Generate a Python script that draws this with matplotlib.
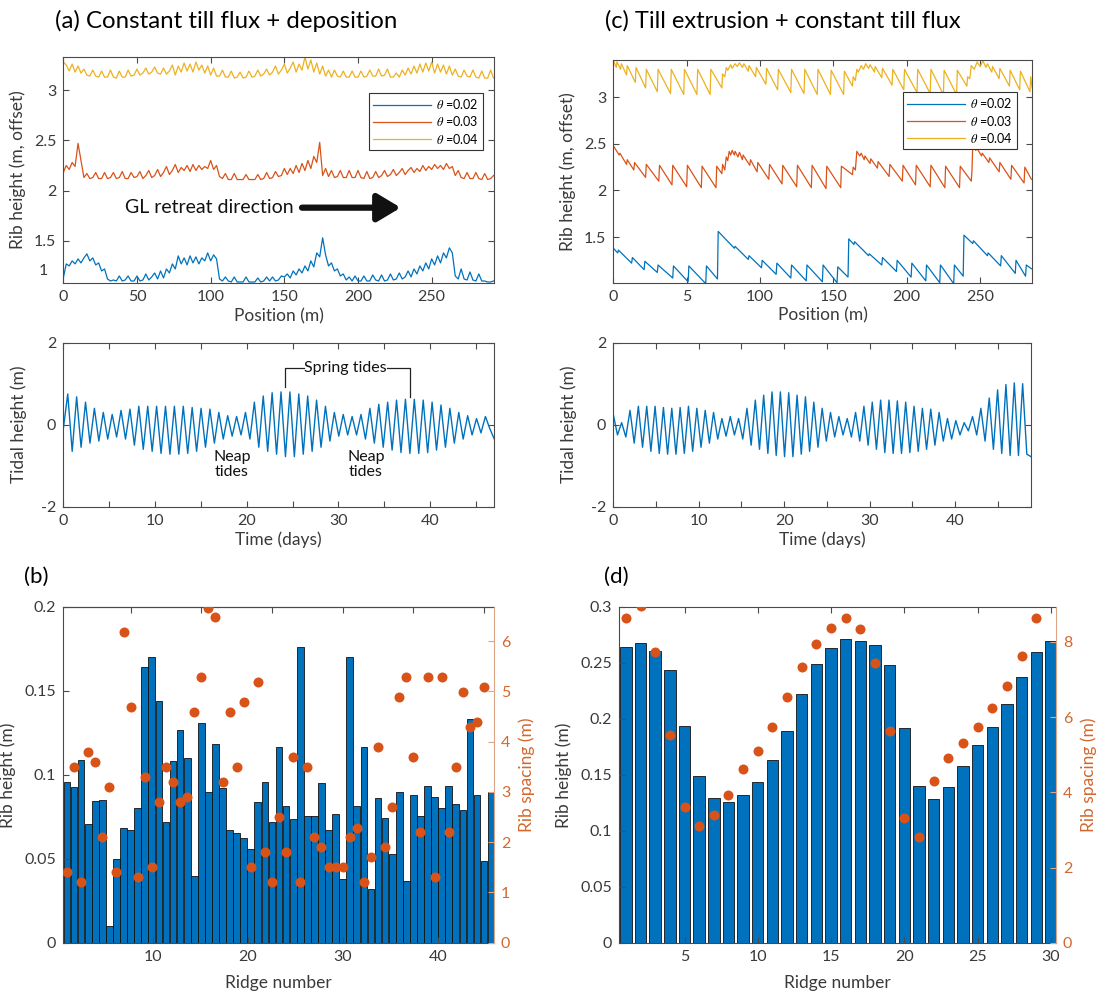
import numpy as np
import matplotlib
matplotlib.use("Agg")
import matplotlib.pyplot as plt
from matplotlib.ticker import FuncFormatter, FixedLocator, NullFormatter

plt.rcParams['font.family'] = ['Lato', 'DejaVu Sans']
plt.rcParams['mathtext.fontset'] = 'stix'
plt.rcParams['axes.unicode_minus'] = False

# ---------------- data ----------------
thetas = ["0.02", "0.03", "0.04"]

# (a) rib height profiles, sampled every 2 m (0..292 m)
pos_a = np.arange(0, 293, 2)
a_blue = [1.13, 1.27, 1.25, 1.30, 1.27, 1.32, 1.28, 1.33, 1.37, 1.30, 1.33, 1.26, 1.28, 1.20, 1.22, 1.12,
          1.10, 1.11, 1.10, 1.15, 1.10, 1.11, 1.15, 1.10, 1.10, 1.15, 1.10, 1.11, 1.17, 1.11, 1.14, 1.18,
          1.12, 1.20, 1.13, 1.22, 1.18, 1.27, 1.22, 1.35, 1.27, 1.33, 1.26, 1.35, 1.28, 1.34, 1.27, 1.33,
          1.30, 1.38, 1.30, 1.36, 1.32, 1.12, 1.10, 1.14, 1.10, 1.09, 1.14, 1.09, 1.09, 1.09, 1.14, 1.09,
          1.09, 1.09, 1.13, 1.09, 1.10, 1.14, 1.10, 1.14, 1.10, 1.11, 1.15, 1.14, 1.17, 1.13, 1.20, 1.16,
          1.22, 1.18, 1.25, 1.20, 1.30, 1.24, 1.38, 1.34, 1.53, 1.36, 1.25, 1.28, 1.20, 1.22, 1.15, 1.17,
          1.11, 1.14, 1.10, 1.15, 1.10, 1.10, 1.15, 1.10, 1.10, 1.16, 1.11, 1.10, 1.16, 1.10, 1.11, 1.17,
          1.11, 1.12, 1.18, 1.12, 1.14, 1.20, 1.14, 1.22, 1.17, 1.25, 1.20, 1.28, 1.22, 1.32, 1.26, 1.35,
          1.28, 1.38, 1.33, 1.43, 1.38, 1.15, 1.12, 1.22, 1.12, 1.11, 1.19, 1.11, 1.10, 1.17, 1.10, 1.10,
          1.09, 1.09, 1.10]
a_orange = [2.18, 2.25, 2.21, 2.28, 2.24, 2.47, 2.30, 2.13, 2.17, 2.12, 2.13, 2.18, 2.12, 2.12, 2.18, 2.12,
            2.13, 2.18, 2.12, 2.13, 2.19, 2.12, 2.12, 2.18, 2.13, 2.14, 2.19, 2.12, 2.15, 2.20, 2.13, 2.15,
            2.21, 2.14, 2.18, 2.24, 2.16, 2.20, 2.26, 2.18, 2.23, 2.20, 2.25, 2.19, 2.26, 2.20, 2.25, 2.21,
            2.24, 2.22, 2.30, 2.21, 2.25, 2.14, 2.12, 2.17, 2.11, 2.11, 2.17, 2.11, 2.11, 2.11, 2.16, 2.11,
            2.11, 2.11, 2.16, 2.11, 2.12, 2.18, 2.12, 2.13, 2.19, 2.14, 2.15, 2.22, 2.16, 2.22, 2.17, 2.25,
            2.18, 2.27, 2.20, 2.30, 2.22, 2.34, 2.28, 2.48, 2.15, 2.22, 2.14, 2.20, 2.13, 2.14, 2.20, 2.13,
            2.13, 2.20, 2.13, 2.13, 2.20, 2.13, 2.12, 2.19, 2.12, 2.13, 2.19, 2.13, 2.15, 2.20, 2.14, 2.16,
            2.21, 2.15, 2.18, 2.22, 2.16, 2.20, 2.23, 2.18, 2.22, 2.19, 2.25, 2.20, 2.24, 2.21, 2.26, 2.22,
            2.25, 2.21, 2.27, 2.22, 2.24, 2.15, 2.20, 2.13, 2.12, 2.18, 2.12, 2.12, 2.18, 2.12, 2.11, 2.17,
            2.11, 2.12, 2.15]
a_yellow = [3.28, 3.25, 3.19, 3.26, 3.18, 3.24, 3.17, 3.21, 3.15, 3.14, 3.20, 3.14, 3.13, 3.19, 3.13, 3.13,
            3.20, 3.13, 3.12, 3.19, 3.13, 3.13, 3.20, 3.14, 3.15, 3.21, 3.15, 3.17, 3.22, 3.16, 3.18, 3.23,
            3.17, 3.16, 3.22, 3.16, 3.19, 3.25, 3.15, 3.24, 3.18, 3.27, 3.19, 3.26, 3.18, 3.28, 3.20, 3.25,
            3.17, 3.24, 3.15, 3.22, 3.14, 3.14, 3.20, 3.13, 3.13, 3.19, 3.12, 3.13, 3.18, 3.12, 3.13, 3.19,
            3.13, 3.14, 3.20, 3.14, 3.16, 3.21, 3.15, 3.18, 3.24, 3.16, 3.20, 3.26, 3.17, 3.22, 3.28, 3.18,
            3.26, 3.20, 3.33, 3.21, 3.30, 3.18, 3.27, 3.16, 3.24, 3.14, 3.20, 3.13, 3.20, 3.14, 3.13, 3.19,
            3.13, 3.13, 3.19, 3.13, 3.13, 3.19, 3.13, 3.14, 3.20, 3.14, 3.14, 3.21, 3.14, 3.15, 3.21, 3.13,
            3.13, 3.17, 3.13, 3.20, 3.15, 3.22, 3.16, 3.24, 3.17, 3.26, 3.18, 3.27, 3.19, 3.28, 3.17, 3.26,
            3.18, 3.25, 3.16, 3.24, 3.15, 3.21, 3.14, 3.13, 3.20, 3.14, 3.13, 3.20, 3.13, 3.12, 3.19, 3.12,
            3.12, 3.20, 3.12]

# (c) rib height profiles (sawtooth vertices)
c_blue_pos = [0, 3, 3.5, 12.5, 13, 21, 21.5, 30, 30.5, 40.5, 41, 51, 51.5, 63, 63.5, 71, 71.5,
              82.5, 83, 92, 92.5, 101, 101.5, 111, 111.5, 121, 121.5, 131.5, 132, 142.5, 143, 152.5, 153,
              160, 160.5, 164, 164.5, 174, 174.5, 183, 183.5, 193, 193.5, 203, 203.5, 213, 213.5,
              222.5, 223, 232, 232.5, 238.5, 239, 245, 245.5, 255, 255.5, 264, 264.5, 274, 274.5,
              281, 281.5, 285]
c_blue = [1.38, 1.33, 1.36, 1.22, 1.28, 1.15, 1.24, 1.12, 1.20, 1.06, 1.19, 1.02, 1.19, 1.00, 1.19, 1.05, 1.56,
          1.38, 1.40, 1.26, 1.30, 1.17, 1.25, 1.10, 1.22, 1.06, 1.20, 1.03, 1.20, 1.02, 1.20, 1.01, 1.18,
          1.07, 1.48, 1.42, 1.45, 1.30, 1.32, 1.20, 1.28, 1.13, 1.25, 1.07, 1.22, 1.03, 1.20,
          1.01, 1.20, 1.00, 1.20, 1.08, 1.52, 1.43, 1.46, 1.30, 1.33, 1.19, 1.30, 1.11, 1.25,
          1.08, 1.20, 1.16]
c_orange_pos = [0, 4, 4.5, 9, 9.5, 14, 14.5, 22, 22.5, 31, 31.5, 40, 40.5, 50, 50.5, 60, 60.5, 70, 70.5,
                74, 74.5, 76, 77, 78, 79, 80, 81, 82.5, 83, 85, 86, 88, 88.5, 93, 93.5, 98, 98.5, 106,
                106.5, 115, 115.5, 125, 125.5, 135, 135.5, 145, 145.5, 155, 155.5, 163, 163.5, 165, 166,
                168, 169, 171, 171.5, 175, 175.5, 180, 180.5, 188, 188.5, 197, 197.5, 206, 206.5, 216,
                216.5, 226, 226.5, 236, 236.5, 244, 244.5, 245, 247, 248, 251, 251.5, 256, 256.5, 263,
                263.5, 271, 271.5, 280, 280.5, 285]
c_orange = [2.48, 2.38, 2.40, 2.28, 2.33, 2.22, 2.30, 2.14, 2.28, 2.10, 2.27, 2.06, 2.27, 2.04, 2.27, 2.03,
            2.26, 2.03, 2.26, 2.18, 2.28, 2.22, 2.36, 2.32, 2.42, 2.38, 2.43, 2.38, 2.42, 2.36, 2.41, 2.33,
            2.38, 2.27, 2.33, 2.20, 2.30, 2.12, 2.28, 2.07, 2.27, 2.04, 2.27, 2.03, 2.27, 2.02, 2.26, 2.03,
            2.26, 2.17, 2.25, 2.22, 2.42, 2.37, 2.40, 2.33, 2.37, 2.29, 2.34, 2.24, 2.31, 2.15, 2.28, 2.10,
            2.27, 2.06, 2.27, 2.04, 2.27, 2.03, 2.26, 2.03, 2.26, 2.10, 2.22, 2.50, 2.43, 2.45, 2.37, 2.40,
            2.30, 2.35, 2.20, 2.30, 2.12, 2.27, 2.08, 2.25, 2.12]
c_yellow_pos = [0, 2, 2.5, 5, 5.5, 9, 9.5, 15, 15.5, 22, 22.5, 30, 30.5, 39, 39.5, 48, 48.5, 57, 57.5, 66,
                66.5, 74, 74.5, 76, 77, 78, 80, 81, 83, 84.5, 86, 88, 89, 92, 92.5, 97, 97.5, 104, 104.5,
                112, 112.5, 121, 121.5, 130, 130.5, 139, 139.5, 148, 148.5, 157, 157.5, 163, 163.5, 165,
                166, 167, 169, 170.5, 172, 174, 175, 178, 178.5, 183, 183.5, 190, 190.5, 198, 198.5, 207,
                207.5, 216, 216.5, 225, 225.5, 234, 234.5, 241, 241.5, 243, 244, 246, 248, 250, 252, 254,
                255, 258, 258.5, 263, 263.5, 270, 270.5, 277, 277.5, 284, 284.5, 285.5]
c_yellow = [3.40, 3.32, 3.38, 3.30, 3.36, 3.24, 3.34, 3.16, 3.32, 3.10, 3.30, 3.06, 3.30, 3.04, 3.30, 3.03,
            3.30, 3.03, 3.30, 3.03, 3.30, 3.10, 3.25, 3.22, 3.32, 3.29, 3.35, 3.31, 3.36, 3.33, 3.37, 3.32,
            3.36, 3.28, 3.34, 3.22, 3.32, 3.14, 3.31, 3.08, 3.30, 3.05, 3.30, 3.04, 3.30, 3.03, 3.30, 3.03,
            3.29, 3.03, 3.28, 3.12, 3.22, 3.18, 3.30, 3.27, 3.34, 3.30, 3.36, 3.31, 3.35, 3.27, 3.33, 3.21,
            3.31, 3.13, 3.30, 3.08, 3.30, 3.05, 3.30, 3.04, 3.30, 3.03, 3.29, 3.03, 3.29, 3.12, 3.22, 3.20,
            3.34, 3.30, 3.38, 3.33, 3.39, 3.32, 3.36, 3.27, 3.33, 3.20, 3.31, 3.12, 3.29, 3.08, 3.28, 3.06,
            3.22, 3.10]

# tidal forcing (m), sampled roughly every half day
t_a = np.linspace(0, 47, 98)
tide_a = [-0.10, 0.75, -0.65, 0.68, -0.55, 0.55, -0.45, 0.40, -0.40, 0.30, -0.35, 0.25, -0.30, 0.35,
          -0.35, 0.38, -0.50, 0.45, -0.60, 0.45, -0.65, 0.45, -0.70, 0.45, -0.72, 0.45, -0.72, 0.45,
          -0.70, 0.42, -0.65, 0.40, -0.55, 0.38, -0.45, 0.30, -0.35, 0.22, -0.28, 0.20, -0.25, 0.30,
          -0.35, 0.55, -0.55, 0.70, -0.65, 0.78, -0.72, 0.80, -0.78, 0.80, -0.78, 0.75, -0.72, 0.70,
          -0.65, 0.60, -0.55, 0.45, -0.40, 0.30, -0.28, 0.25, -0.25, 0.20, -0.25, 0.25, -0.35, 0.40,
          -0.45, 0.50, -0.55, 0.55, -0.62, 0.60, -0.68, 0.62, -0.70, 0.62, -0.70, 0.60, -0.68, 0.55,
          -0.62, 0.48, -0.55, 0.40, -0.45, 0.30, -0.35, 0.22, -0.25, 0.15, -0.20, 0.20, -0.10, -0.35]
t_c = np.linspace(0, 48.9, 101)
tide_c = [0.25, -0.25, 0.05, -0.30, 0.35, -0.45, 0.45, -0.55, 0.45, -0.65, 0.45, -0.70, 0.42, -0.72,
          0.40, -0.72, 0.42, -0.70, 0.45, -0.65, 0.40, -0.55, 0.35, -0.45, 0.30, -0.35, 0.15, -0.28,
          0.20, -0.25, 0.15, -0.35, 0.40, -0.50, 0.60, -0.60, 0.72, -0.70, 0.80, -0.75, 0.80, -0.78,
          0.78, -0.78, 0.72, -0.72, 0.68, -0.65, 0.55, -0.55, 0.40, -0.40, 0.30, -0.30, 0.20, -0.25,
          0.15, -0.30, 0.30, -0.40, 0.45, -0.50, 0.55, -0.60, 0.60, -0.68, 0.60, -0.70, 0.58, -0.70,
          0.55, -0.68, 0.45, -0.65, 0.40, -0.60, 0.38, -0.50, 0.30, -0.40, 0.15, -0.35, 0.10, -0.25,
          0.05, -0.15, 0.20, -0.25, 0.40, -0.40, 0.65, -0.60, 0.85, -0.70, 0.98, -0.75, 1.02, -0.75,
          1.00, -0.72, -0.78]

# (b) ridge statistics
b_height = [0.096, 0.0925, 0.109, 0.0708, 0.0842, 0.0848, 0.0101, 0.0498, 0.0685, 0.0673,
            0.080, 0.164, 0.170, 0.144, 0.0722, 0.108, 0.1266, 0.110, 0.0398, 0.131,
            0.0897, 0.1182, 0.0919, 0.0673, 0.0653, 0.0621, 0.0557, 0.0836, 0.0955, 0.0722,
            0.1164, 0.0812, 0.0736, 0.1761, 0.0752, 0.0752, 0.0951, 0.0673, 0.0764, 0.0382,
            0.1703, 0.0812, 0.1164, 0.0322, 0.0862, 0.0740, 0.0527, 0.0897, 0.0368, 0.0882,
            0.0752, 0.0935, 0.0868, 0.0800, 0.0935, 0.0828, 0.0792, 0.1335, 0.0882, 0.0484, 0.0897]
b_spacing = [1.40, 3.49, 1.20, 3.79, 3.59, 2.10, 3.10, 1.40, 6.19, 4.69,
             1.30, 3.29, 1.50, 2.80, 3.49, 3.20, 2.80, 2.90, 4.59, 5.29,
             6.66, 6.49, 3.20, 4.59, 3.49, 4.79, 1.50, 5.19, 1.80, 1.20,
             2.50, 1.80, 3.69, 1.20, 3.49, 2.10, 1.90, 1.50, 1.50, 1.50,
             2.10, 2.29, 1.20, 1.70, 3.89, 1.90, 2.70, 4.89, 5.29, 3.69,
             2.20, 5.29, 1.30, 5.29, 2.20, 3.49, 4.99, 4.29, 4.39, 5.09]
ridge_b = np.linspace(1, 45.6, len(b_height))

# (d) ridge statistics
d_height = [0.264, 0.268, 0.261, 0.244, 0.194, 0.149, 0.129, 0.126, 0.132, 0.144,
            0.163, 0.189, 0.222, 0.249, 0.263, 0.271, 0.270, 0.266, 0.248, 0.192,
            0.140, 0.128, 0.139, 0.158, 0.177, 0.193, 0.213, 0.237, 0.260, 0.270]
d_spacing = [8.65, 8.96, 7.72, 5.53, 3.61, 3.10, 3.40, 3.92, 4.62, 5.11,
             5.73, 6.53, 7.34, 7.94, 8.36, 8.65, 8.34, 7.44, 5.62, 3.32,
             2.80, 4.31, 4.92, 5.32, 5.73, 6.23, 6.83, 7.63, 8.65]
ridge_d = np.arange(1, len(d_height) + 1)

# ---------------- styling ----------------
BLUE, ORANGE, YELLOW = '#0072BD', '#D95319', '#EDB120'
AX_COL = '#4a4a4a'
TXT_COL = '#3a3a3a'
fmt = FuncFormatter(lambda v, p: f'{v:g}')

fig = plt.figure(figsize=(10.96, 10.01), dpi=100)
W, H = 1096.0, 1001.0


def add_ax(x0, y0, x1, y1):
    return fig.add_axes([x0 / W, 1 - y1 / H, (x1 - x0) / W, (y1 - y0) / H])


def style(ax, right=True, top=True):
    for s in ax.spines.values():
        s.set_color(AX_COL)
        s.set_linewidth(0.8)
    ax.tick_params(direction='in', top=top, right=right, length=4, width=0.8,
                   colors=AX_COL, labelsize=11.5, labelcolor=TXT_COL, pad=5)
    ax.yaxis.set_major_formatter(fmt)


# (a) top
ax_a = add_ax(63.3, 57, 494.3, 283)
for vals, col, th in zip([a_blue, a_orange, a_yellow], [BLUE, ORANGE, YELLOW], thetas):
    ax_a.plot(pos_a, vals, color=col, lw=0.9, label=r'$\theta$ =' + th)
ax_a.set_xlim(0, 292.5)
ax_a.set_ylim(1.08, 3.33)
ax_a.set_xticks([0, 50, 100, 150, 200, 250])
ax_a.set_yticks([1.5, 2, 2.5, 3])
style(ax_a)
ax_a.text(-0.035, 0.055, '1', transform=ax_a.transAxes, ha='right', va='center',
          fontsize=11.5, color=TXT_COL)
ax_a.set_xlabel('Position (m)', fontsize=12.5, color=TXT_COL, labelpad=3)
ax_a.set_ylabel('Rib height (m, offset)', fontsize=12.5, color=TXT_COL, labelpad=6)
leg = ax_a.legend(loc='upper right', bbox_to_anchor=(0.974, 0.841), borderaxespad=0,
                  fontsize=9, handlelength=4.6, fancybox=False, framealpha=1,
                  edgecolor='#333333', borderpad=0.35, labelspacing=0.25, handletextpad=0.4)
leg.get_frame().set_linewidth(0.8)
ax_a.text(99, 1.83, 'GL retreat direction', fontsize=14, ha='center', va='center', color='#111111')
ax_a.annotate('', xy=(229, 1.83), xytext=(162, 1.83),
              arrowprops=dict(arrowstyle='-|>,head_width=0.6,head_length=1.0', lw=4.5,
                              color='#111111', mutation_scale=14, shrinkA=0, shrinkB=0))

# (c) top
ax_c = add_ax(613.3, 60, 1032.3, 282.7)
ax_c.plot(c_blue_pos, c_blue, color=BLUE, lw=0.9, label=r'$\theta$ =' + thetas[0])
ax_c.plot(c_orange_pos, c_orange, color=ORANGE, lw=0.9, label=r'$\theta$ =' + thetas[1])
ax_c.plot(c_yellow_pos, c_yellow, color=YELLOW, lw=0.9, label=r'$\theta$ =' + thetas[2])
ax_c.set_xlim(0, 285.6)
ax_c.set_ylim(1.01, 3.4)
ax_c.set_xticks([0, 50, 100, 150, 200, 250])
ax_c.set_xticklabels(['0', '5', '100', '150', '200', '250'])
ax_c.set_yticks([1.5, 2, 2.5, 3])
style(ax_c)
ax_c.set_xlabel('Position (m)', fontsize=12.5, color=TXT_COL, labelpad=3)
ax_c.set_ylabel('Rib height (m, offset)', fontsize=12.5, color=TXT_COL, labelpad=6)
leg = ax_c.legend(loc='upper right', bbox_to_anchor=(0.963, 0.856), borderaxespad=0,
                  fontsize=9, handlelength=4.6, fancybox=False, framealpha=1,
                  edgecolor='#333333', borderpad=0.35, labelspacing=0.25, handletextpad=0.4)
leg.get_frame().set_linewidth(0.8)

# tides
for (x0, x1, t, tide, xmax) in [(63.3, 494.3, t_a, tide_a, 47.0), (613.3, 1031, t_c, tide_c, 48.9)]:
    ax = add_ax(x0, 342.7, x1, 506.7)
    ax.plot(t, tide, color=BLUE, lw=1.0)
    ax.set_xlim(0, xmax)
    ax.set_ylim(-2, 2)
    ax.set_yticks([-2, 0, 2])
    ax.xaxis.set_major_locator(FixedLocator(np.arange(0, 46, 5)))
    ax.xaxis.set_major_formatter(FuncFormatter(lambda v, p: f'{v:g}' if v % 10 == 0 else ''))
    style(ax)
    ax.set_xlabel('Time (days)', fontsize=12.5, color=TXT_COL, labelpad=3)
    ax.set_ylabel('Tidal height (m)', fontsize=12.5, color=TXT_COL, labelpad=10)
    if xmax == 47.0:
        ax_t = ax

ax_t.text(30.8, 1.375, 'Spring tides', fontsize=11.5, ha='center', va='center', color='#111111')
ax_t.plot([24.2, 24.2, 26.3], [0.93, 1.375, 1.375], color='#222222', lw=0.9)
ax_t.plot([35.3, 37.8, 37.8], [1.375, 1.375, 0.68], color='#222222', lw=0.9)
ax_t.text(18.4, -0.98, 'Neap\ntides', fontsize=11.5, ha='center', va='center', color='#111111',
          linespacing=1.1)
ax_t.text(33.0, -0.98, 'Neap\ntides', fontsize=11.5, ha='center', va='center', color='#111111',
          linespacing=1.1)

# bottom panels
RIGHT_COL = '#D4682E'
RIGHT_SPINE = '#DDA483'


def bottom(x0, x1, ridge, heights, spacing, width, xlim, ylim, yticks, ylim2, yticks2, xticks,
           top_ticks=None):
    ax = add_ax(x0, 607, x1, 942.7)
    ax.bar(ridge, heights, width=width, color=BLUE, edgecolor='#111111', linewidth=0.6)
    ax.set_xlim(*xlim)
    ax.set_ylim(*ylim)
    ax.set_yticks(yticks)
    ax.set_xticks(xticks)
    style(ax, right=False, top=top_ticks is None)
    if top_ticks is not None:
        sec = ax.secondary_xaxis('top')
        sec.set_xticks(top_ticks)
        sec.xaxis.set_major_formatter(NullFormatter())
        sec.tick_params(direction='in', length=4, width=0.8, colors=AX_COL)
        sec.spines['top'].set_color(AX_COL)
        sec.spines['top'].set_linewidth(0.8)
    ax.spines['right'].set_visible(False)
    ax.set_xlabel('Ridge number', fontsize=12.5, color=TXT_COL, labelpad=8)
    ax.set_ylabel('Rib height (m)', fontsize=12.5, color=TXT_COL, labelpad=6)
    ax2 = ax.twinx()
    ax2.plot(ridge[:len(spacing)], spacing, 'o', color=ORANGE, markersize=7.2, markeredgewidth=0)
    ax2.set_ylim(*ylim2)
    ax2.set_yticks(yticks2)
    ax2.yaxis.set_major_formatter(fmt)
    for k, s in ax2.spines.items():
        s.set_visible(k == 'right')
    ax2.spines['right'].set_color(RIGHT_SPINE)
    ax2.spines['right'].set_linewidth(0.8)
    ax2.tick_params(axis='y', direction='in', length=4, width=0.8, colors=RIGHT_SPINE,
                    labelcolor=RIGHT_COL, labelsize=11.5, pad=5)
    ax2.set_ylabel('Rib spacing (m)', fontsize=12.5, color=RIGHT_COL, labelpad=6)
    return ax


s_b = ridge_b[1] - ridge_b[0]
bottom(63.3, 494, ridge_b, b_height, b_spacing, 0.95 * s_b, (0.613, 45.9), (0, 0.2),
       [0, 0.05, 0.1, 0.15, 0.2], (0, 6.68), [0, 1, 2, 3, 4, 5, 6], [10, 20, 30, 40],
       top_ticks=ridge_b[9::10])
bottom(619.3, 1056, ridge_d, d_height, d_spacing, 0.78, (0.55, 30.35), (0, 0.3),
       [0, 0.05, 0.1, 0.15, 0.2, 0.25, 0.3], (0, 8.93), [0, 2, 4, 6, 8], [5, 10, 15, 20, 25, 30])

# panel titles
fig.text(55 / W, 1 - 21 / H, '(a) Constant till flux + deposition', fontsize=17.3, va='center', ha='left')
fig.text(605 / W, 1 - 21 / H, '(c) Till extrusion + constant till flux', fontsize=17, va='center', ha='left')
fig.text(24 / W, 1 - 577 / H, '(b)', fontsize=16, va='center', ha='left')
fig.text(604 / W, 1 - 577 / H, '(d)', fontsize=16, va='center', ha='left')

fig.savefig('out.png', dpi=100)
